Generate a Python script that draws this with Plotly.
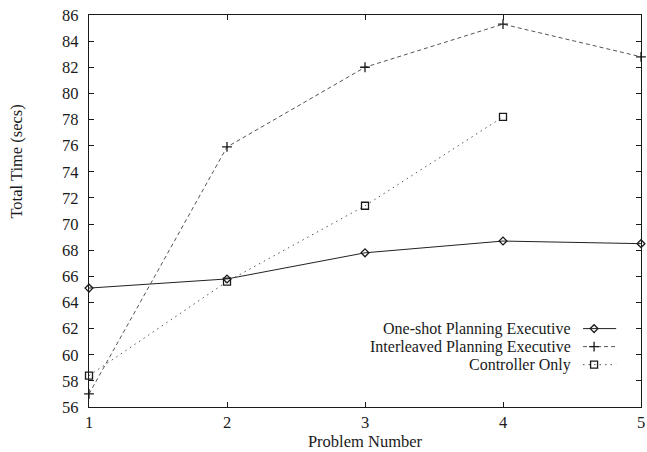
import plotly.graph_objects as go

# Problem numbers and total run times (seconds) for each executive configuration
problems = [1, 2, 3, 4, 5]
one_shot = [65.1, 65.8, 67.8, 68.7, 68.5]
interleaved = [57.0, 75.9, 82.0, 85.3, 82.8]
controller_problems = [1, 2, 3, 4]
controller_only = [58.4, 65.6, 71.4, 78.2]

series_names = ["One-shot Planning Executive",
                "Interleaved Planning Executive",
                "Controller Only"]

y_ticks = list(range(56, 87, 2))
x_ticks = [1, 2, 3, 4, 5]

FONT = "Liberation Serif, Times New Roman, serif"
INK = "#1a1a1a"

styles = [
    dict(color="#222222", dash="solid", symbol="diamond-open", size=6),
    dict(color="#555555", dash="4px,3px", symbol="cross-thin", size=7),
    dict(color="#555555", dash="1.5px,4px", symbol="square-open", size=7),
]

fig = go.Figure()

series = [(problems, one_shot), (problems, interleaved),
          (controller_problems, controller_only)]
for (xs, ys), name, st in zip(series, series_names, styles):
    fig.add_trace(go.Scatter(
        x=xs, y=ys, mode="lines+markers", name=name, showlegend=False,
        cliponaxis=False,
        line=dict(color=st["color"], width=1, dash=st["dash"]),
        marker=dict(symbol=st["symbol"], size=st["size"], color=INK,
                    line=dict(color=INK, width=1.3)),
    ))

# Key: text on the left, line sample on the right, drawn on a unit overlay axis
key_rows = [0.200, 0.154, 0.108]
key_line = [0.895, 0.955]
key_mark = 0.915
key_text_x = 0.876
for name, st, ky in zip(series_names, styles, key_rows):
    fig.add_trace(go.Scatter(
        x=key_line, y=[ky, ky], mode="lines", xaxis="x2", yaxis="y2",
        showlegend=False, hoverinfo="skip",
        line=dict(color=st["color"], width=1, dash=st["dash"]),
    ))
    fig.add_trace(go.Scatter(
        x=[key_mark], y=[ky], mode="markers", xaxis="x2", yaxis="y2",
        showlegend=False, hoverinfo="skip", cliponaxis=False,
        marker=dict(symbol=st["symbol"], size=st["size"], color=INK,
                    line=dict(color=INK, width=1.3)),
    ))
    fig.add_annotation(
        x=key_text_x, y=ky, xref="paper", yref="paper", text=name,
        showarrow=False, xanchor="right", yanchor="middle",
        font=dict(family=FONT, size=16, color=INK),
    )

fig.add_annotation(
    x=-0.133, y=0.625, xref="paper", yref="paper", text="Total Time (secs)",
    textangle=-90, showarrow=False, xanchor="center", yanchor="middle",
    font=dict(family=FONT, size=16.5, color=INK),
)

axis_common = dict(
    showgrid=False, zeroline=False, showline=True, linecolor=INK, linewidth=1.2,
    mirror="ticks", ticks="inside", ticklen=5, tickcolor=INK, tickwidth=1,
    tickfont=dict(family=FONT, size=16.5, color=INK),
)

fig.update_layout(
    width=647, height=452,
    margin=dict(l=89, r=2, t=15, b=45),
    paper_bgcolor="white", plot_bgcolor="white",
    xaxis=dict(range=[1, 5], tickvals=x_ticks, ticklabeloverflow="allow",
               title=dict(text="Problem Number", standoff=2,
                          font=dict(family=FONT, size=16.5, color=INK)),
               **axis_common),
    yaxis=dict(range=[56, 86], tickvals=y_ticks, ticklabelstandoff=6,
               **axis_common),
    xaxis2=dict(overlaying="x", range=[0, 1], visible=False),
    yaxis2=dict(overlaying="y", range=[0, 1], visible=False),
)

fig.write_html("out.html")
